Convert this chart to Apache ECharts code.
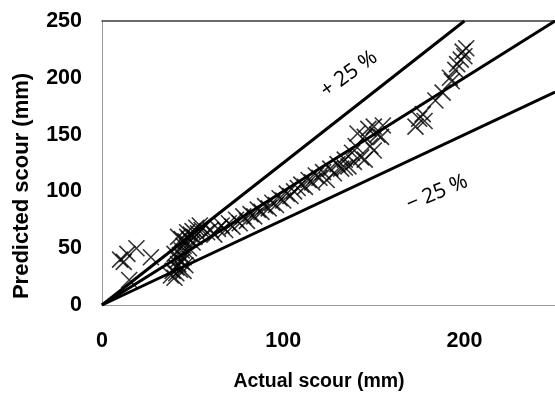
<!DOCTYPE html>
<html>
<head>
<meta charset="utf-8">
<script src="https://cdn.jsdelivr.net/npm/echarts@6/dist/echarts.min.js"></script>
<style>html,body{margin:0;padding:0;background:#fff}#c{width:555px;height:395px}</style>
</head>
<body>
<div id="c"></div>
<script>
// Tick ranges
var xTicks = [0, 100, 200];
var yTicks = [0, 50, 100, 150, 200, 250];

// Scatter: [actual, predicted] in mm
var scourPoints = [
  [10,40],[14,45],[19,50],[27,42],[15,22],[12,38],
  [38,26],[39,30],[40,24],[41,33],[41,28],[42,36],[42,40],[43,31],[43,44],[44,38],
  [44,48],[45,42],[45,52],[46,35],[46,56],[47,46],[47,60],[48,50],[48,58],[49,62],
  [50,55],[50,65],[51,60],[52,68],[53,63],[54,70],[55,66],[42,60],[44,58],[47,64],
  [40,45],[45,30],
  [58,64],[60,66],[62,62],[64,67],[66,70],[68,66],[70,72],[72,69],[74,75],[76,72],
  [78,78],[80,74],[82,80],[84,78],[86,84],[88,82],[90,87],[92,85],[94,90],[96,88],
  [98,94],[100,92],[102,98],[104,96],[106,100],[108,103],[110,106],[112,104],
  [114,110],[116,108],[118,114],[120,112],[122,117],[124,110],[126,120],[128,116],
  [130,124],[132,120],[134,128],[136,122],
  [138,134],[140,140],[141,151],[143,130],[145,148],[145,128],[147,155],[148,140],
  [150,157],[150,136],[152,150],[154,148],[155,158],[139,126],[134,121],
  [173,157],[175,164],[177,168],[178,162],[184,180],[188,187],[192,200],[193,197],
  [195,207],[196,212],[198,216],[199,223],[200,219],[201,226]
];

// Reference lines (perfect agreement and +/-25 %)
var lineEqual = [[0,0],[250,250]];
var linePlus25 = [[0,0],[200,250]];
var lineMinus25 = [[0,0],[250,187.5]];

var chart = echarts.init(document.getElementById('c'), null, {renderer:'canvas'});
var tickFont = {fontFamily:'Liberation Sans', fontWeight:'bold', fontSize:21.5, color:'#000'};
var refLine = function(d){
  return {type:'line', data:d, symbol:'none', silent:true, z:3,
    lineStyle:{color:'#000', width:3}, clip:true, animation:false};
};
chart.setOption({
  animation:false,
  grid:{left:102, top:21, width:462, height:284},
  xAxis:[{
    type:'value', min:0, max:250, interval:100,
    axisLine:{show:true, lineStyle:{color:'#9a9a9a', width:1}},
    axisTick:{show:false}, splitLine:{show:false},
    axisLabel:Object.assign({margin:25, showMaxLabel:false}, tickFont)
  },{
    type:'value', position:'top', min:0, max:250,
    axisLine:{show:true, lineStyle:{color:'#3a3a3a', width:1.5}},
    axisTick:{show:false}, splitLine:{show:false}, axisLabel:{show:false}
  }],
  yAxis:{
    type:'value', min:0, max:250, interval:50,
    axisLine:{show:true, lineStyle:{color:'#9a9a9a', width:1}},
    axisTick:{show:false}, splitLine:{show:false},
    axisLabel:Object.assign({margin:20}, tickFont)
  },
  series:[
    refLine(lineEqual), refLine(linePlus25), refLine(lineMinus25),
    {type:'scatter', data:scourPoints, z:4,
     symbol:'path://M0,0L10,10M10,0L0,10', symbolSize:16,
     itemStyle:{color:'rgba(0,0,0,0)', borderColor:'#000', borderWidth:1.6}}
  ],
  graphic:[
    {type:'text', x:319, y:382, style:{text:'Actual scour (mm)', fontFamily:'Liberation Sans', fontWeight:'bold', fontSize:19.5, fill:'#000', textAlign:'center', textVerticalAlign:'middle'}},
    {type:'text', x:22, y:186, rotation:Math.PI/2, style:{text:'Predicted scour (mm)', fontFamily:'Liberation Sans', fontWeight:'bold', fontSize:22, fill:'#000', textAlign:'center', textVerticalAlign:'middle'}},
    {type:'text', x:349, y:74, rotation:36*Math.PI/180, style:{text:'+ 25 %', fontFamily:'Noto Sans', fontSize:21, fill:'#000', textAlign:'center', textVerticalAlign:'middle'}},
    {type:'text', x:437, y:193, rotation:23*Math.PI/180, style:{text:'\u2212 25 %', fontFamily:'Noto Sans', fontSize:21, fill:'#000', textAlign:'center', textVerticalAlign:'middle'}}
  ]
});
</script>
</body>
</html>
